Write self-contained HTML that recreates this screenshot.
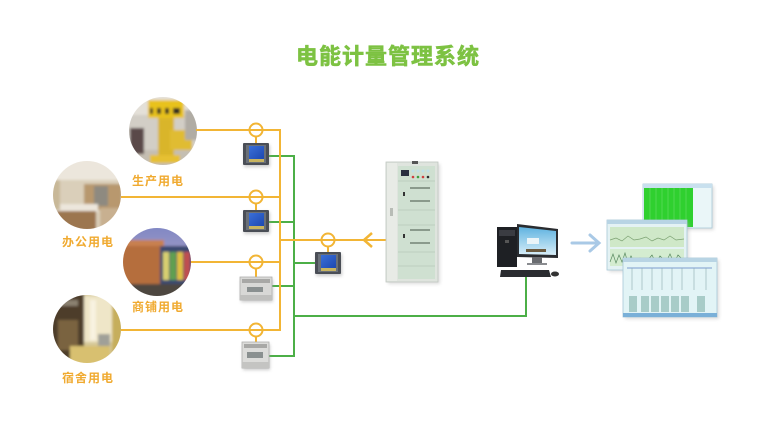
<!DOCTYPE html>
<html><head><meta charset="utf-8"><style>
html,body{margin:0;padding:0;background:#fff;}
svg{display:block;}
text{font-family:"Liberation Sans","Noto Sans CJK SC",sans-serif;}
</style></head><body>
<svg width="768" height="433" viewBox="0 0 768 433" xmlns="http://www.w3.org/2000/svg">
<defs>
<clipPath id="c1"><circle cx="163" cy="131" r="34"/></clipPath>
<clipPath id="c2"><circle cx="87" cy="195" r="34"/></clipPath>
<clipPath id="c3"><circle cx="157" cy="262" r="34"/></clipPath>
<clipPath id="c4"><circle cx="87" cy="329" r="34"/></clipPath>
<filter id="bl" x="-10%" y="-10%" width="120%" height="120%"><feGaussianBlur stdDeviation="1.2"/></filter>
<filter id="sh" x="-30%" y="-30%" width="160%" height="160%"><feGaussianBlur stdDeviation="1.5"/></filter>
<linearGradient id="sky" x1="0" y1="0" x2="0" y2="1"><stop offset="0" stop-color="#7f86c4"/><stop offset="1" stop-color="#c9b6c6"/></linearGradient>
<linearGradient id="scr" x1="0" y1="0" x2="1" y2="1"><stop offset="0" stop-color="#3a6fd8"/><stop offset="1" stop-color="#1d48b0"/></linearGradient>
<linearGradient id="mon" x1="0" y1="0" x2="0" y2="1"><stop offset="0" stop-color="#5fb3e0"/><stop offset="1" stop-color="#d8eef8"/></linearGradient>
</defs>

<!-- Title -->
<text x="388" y="64" font-size="22" font-weight="bold" fill="#7dc242" stroke="#7dc242" stroke-width="0.6" text-anchor="middle" letter-spacing="1">电能计量管理系统</text>

<!-- Circle 1: production -->
<g clip-path="url(#c1)">
 <g filter="url(#bl)">
 <rect x="125" y="95" width="76" height="72" fill="#d2cec6"/>
 <rect x="125" y="95" width="76" height="20" fill="#e4e0d8"/>
 <rect x="125" y="150" width="76" height="20" fill="#c4beb2"/>
 <rect x="148" y="100" width="36" height="18" fill="#e8c21e"/>
 <rect x="150" y="108" width="30" height="6" fill="#2a2a22"/>
 <rect x="153" y="108" width="4" height="6" fill="#e8c21e"/><rect x="161" y="108" width="4" height="6" fill="#e8c21e"/><rect x="169" y="108" width="4" height="6" fill="#e8c21e"/>
 <rect x="158" y="118" width="16" height="40" fill="#d9b52a"/>
 <rect x="170" y="130" width="22" height="20" fill="#e0bc30"/>
 <rect x="150" y="155" width="30" height="8" fill="#e6c030"/>
 <rect x="130" y="128" width="14" height="26" fill="#5a4a48"/>
 <rect x="185" y="110" width="14" height="30" fill="#b0aca4"/>
 </g>
</g>
<!-- Circle 2: office -->
<g clip-path="url(#c2)">
 <g filter="url(#bl)">
 <rect x="50" y="158" width="76" height="74" fill="#dacfba"/>
 <rect x="50" y="158" width="76" height="22" fill="#ece6dc"/>
 <rect x="84" y="184" width="38" height="26" fill="#b8986e"/>
 <rect x="94" y="186" width="14" height="20" fill="#8e8a80"/>
 <rect x="52" y="204" width="46" height="8" fill="#ece6dc"/>
 <rect x="56" y="211" width="40" height="20" fill="#9c7650"/>
 <rect x="100" y="208" width="26" height="24" fill="#c8b090"/>
 <rect x="50" y="180" width="10" height="30" fill="#c8b898"/>
 </g>
</g>
<!-- Circle 3: shop -->
<g clip-path="url(#c3)">
 <g filter="url(#bl)">
 <rect x="120" y="225" width="76" height="74" fill="url(#sky)"/>
 <rect x="120" y="240" width="44" height="50" fill="#b56e3c"/>
 <rect x="120" y="240" width="44" height="6" fill="#c88050"/>
 <rect x="160" y="246" width="34" height="42" fill="#3a4a70"/>
 <rect x="163" y="252" width="6" height="28" fill="#d8d070"/>
 <rect x="170" y="252" width="6" height="28" fill="#60a050"/>
 <rect x="177" y="252" width="6" height="28" fill="#e0c040"/>
 <rect x="184" y="252" width="6" height="28" fill="#c05050"/>
 <rect x="120" y="284" width="76" height="15" fill="#4e4640"/>
 </g>
</g>
<!-- Circle 4: dorm -->
<g clip-path="url(#c4)">
 <g filter="url(#bl)">
 <rect x="50" y="292" width="76" height="74" fill="#d6c898"/>
 <rect x="50" y="292" width="34" height="74" fill="#4e3e2c"/>
 <rect x="56" y="300" width="22" height="6" fill="#8a8070"/>
 <rect x="58" y="320" width="20" height="30" fill="#7a6440"/>
 <rect x="84" y="296" width="28" height="46" fill="#efe6c8"/>
 <rect x="90" y="300" width="6" height="40" fill="#f8f2e0"/>
 <rect x="112" y="296" width="14" height="60" fill="#c6ae5c"/>
 <rect x="98" y="334" width="12" height="16" fill="#a0a098"/>
 <rect x="70" y="346" width="40" height="20" fill="#d8c070"/>
 </g>
</g>

<!-- Labels -->
<g font-size="12" font-weight="bold" fill="#f0aa30" text-anchor="middle" letter-spacing="1">
<text x="158" y="185">生产用电</text>
<text x="88" y="246">办公用电</text>
<text x="158" y="311">商铺用电</text>
<text x="88" y="382">宿舍用电</text>
</g>

<!-- Green lines -->
<g stroke="#4caf47" stroke-width="2" fill="none">
<line x1="294" y1="155" x2="294" y2="357"/>
<line x1="268" y1="156" x2="294" y2="156"/>
<line x1="268" y1="222" x2="294" y2="222"/>
<line x1="294" y1="263" x2="316" y2="263"/>
<line x1="271" y1="286" x2="294" y2="286"/>
<line x1="268" y1="356" x2="294" y2="356"/>
<polyline points="294,316 526,316 526,276"/>
</g>

<!-- Yellow lines -->
<g stroke="#f2b535" stroke-width="2" fill="none">
<line x1="196" y1="130" x2="281" y2="130"/>
<line x1="121" y1="197" x2="281" y2="197"/>
<line x1="191" y1="262" x2="281" y2="262"/>
<line x1="121" y1="330" x2="281" y2="330"/>
<line x1="280" y1="129" x2="280" y2="331"/>
<line x1="280" y1="240" x2="387" y2="240"/>
<circle cx="256" cy="130" r="6.5"/>
<circle cx="256" cy="197" r="6.5"/>
<circle cx="256" cy="262" r="6.5"/>
<circle cx="256" cy="330" r="6.5"/>
<circle cx="328" cy="240" r="6.5"/>
<line x1="256" y1="136" x2="256" y2="144"/>
<line x1="256" y1="203" x2="256" y2="211"/>
<line x1="256" y1="268" x2="256" y2="278"/>
<line x1="256" y1="336" x2="256" y2="343"/>
<line x1="328" y1="246" x2="328" y2="253"/>
<polyline points="372,233 364,240 372,247" stroke-width="2.5"/>
</g>

<!-- Panel meters -->
<g id="pm">
 <rect x="244" y="145" width="26" height="22" fill="#999" opacity="0.5" filter="url(#sh)"/>
 <rect x="243" y="143" width="26" height="22" rx="1" fill="#4a4e56"/>
 <rect x="246" y="145" width="20" height="18" fill="#6a7078"/>
 <rect x="249" y="146" width="15" height="13" fill="url(#scr)"/>
 <rect x="249" y="159" width="15" height="3" fill="#c8b460"/>
</g>
<use href="#pm" x="0" y="67"/>
<use href="#pm" x="72" y="109"/>

<!-- DIN rail meters -->
<g>
 <rect x="241" y="279" width="32" height="23" fill="#999" opacity="0.5" filter="url(#sh)"/>
 <rect x="240" y="277" width="32" height="23" fill="#d8d8d6" stroke="#b0b0ae" stroke-width="0.8"/>
 <rect x="242" y="279" width="28" height="4" fill="#a8a8a6"/>
 <rect x="247" y="287" width="16" height="5" fill="#8a9090"/>
 <rect x="240" y="295" width="32" height="5" fill="#c0c0be"/>
</g>
<g>
 <rect x="243" y="344" width="27" height="26" fill="#999" opacity="0.5" filter="url(#sh)"/>
 <rect x="242" y="342" width="27" height="26" fill="#dcdcda" stroke="#b0b0ae" stroke-width="0.8"/>
 <rect x="244" y="344" width="23" height="4" fill="#a8a8a6"/>
 <rect x="247" y="352" width="16" height="6" fill="#8a9090"/>
 <rect x="242" y="362" width="27" height="6" fill="#c4c4c2"/>
</g>

<!-- Cabinet -->
<g>
 <rect x="388" y="164" width="52" height="120" fill="#aaa" opacity="0.4" filter="url(#sh)"/>
 <rect x="386" y="162" width="52" height="120" fill="#dfe4de" stroke="#c0c6c0" stroke-width="0.8"/>
 <rect x="387" y="163" width="10" height="118" fill="#e8ebe6"/>
 <rect x="390" y="208" width="3" height="8" fill="#b8bcb6"/>
 <rect x="398" y="166" width="37" height="113" fill="#cfe0d1"/>
 <rect x="401" y="170" width="8" height="6" fill="#2a3040"/>
 <circle cx="413" cy="171" r="1.5" fill="#bfe0e8"/><circle cx="418" cy="171" r="1.5" fill="#bfe0e8"/><circle cx="423" cy="171" r="1.5" fill="#bfe0e8"/><circle cx="428" cy="171" r="1.5" fill="#bfe0e8"/>
 <circle cx="413" cy="177" r="1.3" fill="#d04040"/><circle cx="418" cy="177" r="1.3" fill="#40a040"/><circle cx="423" cy="177" r="1.3" fill="#d04040"/><circle cx="428" cy="177" r="1.3" fill="#303030"/>
 <line x1="398" y1="181" x2="435" y2="181" stroke="#b8c8ba" stroke-width="0.8"/>
 <rect x="410" y="187" width="20" height="2" fill="#8a9a8c"/>
 <rect x="410" y="200" width="20" height="2" fill="#8a9a8c"/>
 <rect x="403" y="192" width="2" height="4" fill="#333"/>
 <line x1="398" y1="210" x2="435" y2="210" stroke="#b8c8ba" stroke-width="0.8"/>
 <rect x="410" y="229" width="20" height="2" fill="#8a9a8c"/>
 <rect x="410" y="242" width="20" height="2" fill="#8a9a8c"/>
 <rect x="403" y="234" width="2" height="4" fill="#333"/>
 <line x1="398" y1="225" x2="435" y2="225" stroke="#b8c8ba" stroke-width="0.8"/>
 <line x1="398" y1="252" x2="435" y2="252" stroke="#b8c8ba" stroke-width="0.8"/>
 <line x1="398" y1="266" x2="435" y2="266" stroke="#b8c8ba" stroke-width="0.8"/>
 <rect x="412" y="161" width="6" height="3" fill="#555"/>
</g>

<!-- Computer -->
<g>
 <rect x="497" y="227" width="20" height="40" fill="#1e2024"/>
 <rect x="499" y="230" width="16" height="6" fill="#3a3c42"/>
 <rect x="505" y="240" width="4" height="3" fill="#555"/>
 <polygon points="517,224 558,229 558,258 517,257" fill="#2a2c30"/>
 <polygon points="519,227 556,231 556,255 519,254" fill="url(#mon)"/>
 <rect x="527" y="238" width="12" height="6" fill="#eaf4f8"/>
 <rect x="526" y="249" width="20" height="3" fill="#6a5a40"/>
 <rect x="532" y="257" width="10" height="6" fill="#6a6c70"/>
 <rect x="527" y="263" width="20" height="2" fill="#8a8c90"/>
 <polygon points="501,270 549,270 551,277 500,277" fill="#2a2c30"/>
 <ellipse cx="555" cy="274" rx="4" ry="2.5" fill="#333"/>
</g>

<!-- Arrow -->
<g stroke="#a9c9e6" stroke-width="3" fill="none" stroke-linecap="round">
<line x1="572" y1="243" x2="598" y2="243"/>
<polyline points="590,235 599,243 590,251"/>
</g>

<!-- Screen 1 -->
<g>
 <rect x="645" y="186" width="69" height="44" fill="#aaa" opacity="0.4" filter="url(#sh)"/>
 <rect x="643" y="184" width="69" height="44" fill="#eaf6f8" stroke="#a8c8d8" stroke-width="0.8"/>
 <rect x="643" y="184" width="69" height="4" fill="#c8e0ee"/>
 <rect x="644" y="188" width="49" height="39" fill="#2fd02f"/>
 <g stroke="#6ae06a" stroke-width="0.6">
 <line x1="650" y1="188" x2="650" y2="227"/><line x1="656" y1="188" x2="656" y2="227"/><line x1="662" y1="188" x2="662" y2="227"/><line x1="668" y1="188" x2="668" y2="227"/><line x1="674" y1="188" x2="674" y2="227"/><line x1="680" y1="188" x2="680" y2="227"/><line x1="686" y1="188" x2="686" y2="227"/>
 </g>
</g>
<!-- Screen 2 -->
<g>
 <rect x="609" y="222" width="80" height="50" fill="#aaa" opacity="0.4" filter="url(#sh)"/>
 <rect x="607" y="220" width="80" height="50" fill="#e4f2f4" stroke="#a8c8d8" stroke-width="0.8"/>
 <rect x="607" y="220" width="80" height="4" fill="#b8d4e4"/>
 <rect x="610" y="227" width="74" height="20" fill="#cfe8c8"/>
 <polyline points="610,240 616,238 622,241 628,236 634,240 640,239 646,237 652,241 658,238 664,240 670,236 676,240 684,239" stroke="#7aa070" stroke-width="0.7" fill="none"/>
 <rect x="610" y="249" width="74" height="17" fill="#d4ecd0"/>
 <polyline points="610,262 613,254 616,263 619,255 622,262 625,253 628,263 631,256 634,262 640,258 646,262 652,255 656,263 660,256 666,262 670,254 674,263 678,255 684,261" stroke="#5a8a60" stroke-width="0.7" fill="none"/>
</g>
<!-- Screen 3 -->
<g>
 <rect x="625" y="260" width="94" height="59" fill="#aaa" opacity="0.4" filter="url(#sh)"/>
 <rect x="623" y="258" width="94" height="59" fill="#e2f4f6" stroke="#a8c8d8" stroke-width="0.8"/>
 <rect x="623" y="258" width="94" height="4" fill="#b8d4e4"/>
 <line x1="627" y1="268" x2="712" y2="268" stroke="#5a80c0" stroke-width="0.8"/>
 <g stroke="#8aaab0" stroke-width="0.6" fill="none">
 <line x1="632" y1="268" x2="632" y2="290"/><line x1="642" y1="268" x2="642" y2="290"/><line x1="652" y1="268" x2="652" y2="290"/><line x1="662" y1="268" x2="662" y2="290"/><line x1="672" y1="268" x2="672" y2="290"/><line x1="682" y1="268" x2="682" y2="290"/><line x1="694" y1="268" x2="694" y2="290"/><line x1="706" y1="268" x2="706" y2="290"/>
 </g>
 <g fill="#a8ccc8">
 <rect x="629" y="296" width="8" height="16"/><rect x="641" y="296" width="8" height="16"/><rect x="651" y="296" width="8" height="16"/><rect x="661" y="296" width="8" height="16"/><rect x="671" y="296" width="8" height="16"/><rect x="681" y="296" width="8" height="16"/><rect x="697" y="296" width="8" height="16"/>
 </g>
 <rect x="623" y="313" width="94" height="4" fill="#7ab0d8"/>
</g>
</svg>
</body></html>
